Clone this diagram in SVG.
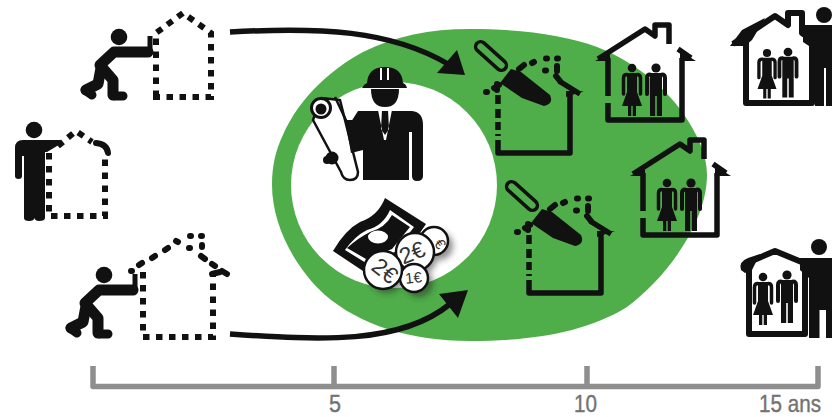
<svg xmlns="http://www.w3.org/2000/svg" width="832" height="417" viewBox="0 0 832 417">
<style>
.k{fill:#111}
.ln{fill:none;stroke:#111;stroke-linejoin:round}
.dash{fill:none;stroke:#111;stroke-width:6;stroke-dasharray:6.500 6.500}
.dots{fill:none;stroke:#111;stroke-width:6;stroke-linecap:round;stroke-linejoin:round}
.ax{fill:none;stroke:#8e8e8e;stroke-width:5.500;stroke-linejoin:round}
.lab{font-family:"Liberation Sans",Arial,sans-serif;font-size:24px;fill:#737373;stroke:#737373;stroke-width:.4}
.coin{fill:#fff;stroke:#111;stroke-width:2.500}
.ct{font-family:"Liberation Sans",Arial,sans-serif;fill:#333;text-anchor:middle}
</style>
<defs>
<filter id="sh" x="-40%" y="-40%" width="180%" height="180%"><feGaussianBlur stdDeviation="3"/></filter>
<g id="pusher">
<circle class="k" cx="119" cy="37" r="8.300"/>
<path class="ln" stroke-width="11" stroke-linecap="round" d="M148,52H114L100,65L113,80V95"/>
<path class="ln" stroke-width="11" stroke-linecap="round" d="M101,68L98,84L86,90"/>
<path class="ln" stroke-width="9" stroke-linecap="round" d="M115,96H123M85,90L92,95"/>
<path class="ln" stroke-width="5" d="M150,36V54"/>
</g>
<g id="man">
<circle class="k" cx="0" cy="0" r="4.600"/>
<path class="k" d="M-6,5H6V48H0.800V28H-0.800V48H-6Z"/>
<path class="ln" stroke-width="4" stroke-linecap="round" d="M-6,6.500Q-9,6.500-9,10V26M6,6.500Q9,6.500 9,10V26"/>
</g>
<g id="woman">
<circle class="k" cx="0" cy="0" r="4.300"/>
<path class="k" d="M-5,5H5L5,24L10,38H4V48H0.700V38H-0.700V48H-4V38H-10L-5,24Z"/>
<path class="ln" stroke-width="3.500" stroke-linecap="round" d="M-5,6.500Q-8.500,6.500-8.500,10V26M5,6.500Q8.500,6.500 8.500,10V26"/>
</g>
<g id="trowelhouse">
<path class="ln" stroke-width="5.500" d="M498,95V104M498,109V118M498,122V130M498,134V136"/>
<path class="ln" stroke-width="5.500" d="M498,140V153H570V93M559,81L580,94"/>
<path class="k" d="M566,91H584L566,97Z"/>
<path class="k" d="M500,83L511,69L521,72L550,95Q554,104 544,106L522,98Z"/>
<g transform="rotate(42 491 56)"><rect class="ln" stroke-width="3.500" x="472" y="51" width="38" height="10" rx="5"/></g>
<path class="dots" d="M519,69L524,65M532,63L534,62M546,58.500H547M557,58.500H558M545,70.500H546M557,66V71M556,76L560,81M497,84V90M486,92H487M494,88L499,85"/>
</g>
<g id="familyhouse">
<path class="ln" stroke-width="5.500" d="M608,58V96M608,103V120H682V58M598,59L645,29L655,36V25H669V44M678,49L691,58"/>
<path class="k" d="M595,61L610,53V61ZM696,61H680V51Z"/>
<use href="#woman" x="632" y="68"/>
<use href="#man" x="656" y="68"/>
</g>
</defs>

<g id="blob">
<path d="M272,185C272,165 276,150 282,137C300,95 335,67 363,52C395,36 430,29 470,29C520,29 565,35 597,47C640,64 668,92 683,113C698,135 707,155 707,175C707,220 670,275 627,307C585,333 530,341 470,341C410,341 360,325 325,295C295,268 272,225 272,185Z" fill="#4fae4a"/>
<circle cx="394" cy="185" r="103" fill="#fff"/>
</g>

<g id="connectors">
<path class="ln" stroke-width="5.500" d="M230,32C320,27 390,30 448,64"/>
<path class="k" d="M465,75L457,50L437,73Z"/>
<path class="ln" stroke-width="5.500" d="M230,334C320,340 400,345 450,304"/>
<path class="k" d="M468,290L439,294L458,318Z"/>
<g id="timeline">
<path class="ax" d="M93,366V386.500H818V366M334,366V386M587,366V386"/>
<text class="lab" x="329" y="411.500" textLength="12" lengthAdjust="spacingAndGlyphs">5</text>
<text class="lab" x="574" y="411.500" textLength="23" lengthAdjust="spacingAndGlyphs">10</text>
<text class="lab" x="759" y="411.500" textLength="62" lengthAdjust="spacingAndGlyphs">15 ans</text>
</g>
</g>

<g id="pusher-plain">
<use href="#pusher"/>
<path class="dash" d="M156,97V33L183,13L211,33V97Z"/>
</g>

<g id="standing-plain">
<circle class="k" cx="34" cy="130" r="8.300"/>
<path class="k" d="M15,176V148Q15,140 23,140H60L62,143L47,152H45V218Q45,221 39,221Q35,221 34.500,218Q34,221 29,221Q24,221 24,218V156H22V176Q22,179 18.500,179Q15,179 15,176Z"/>
<path class="dash" d="M49,153V216H105V153"/>
<path class="dash" d="M58,146L76,131L92,142" stroke-dasharray="6 5"/>
<path class="ln" stroke-width="6" stroke-linecap="round" d="M96,143Q107,144 108,153"/>
</g>

<g id="pusher-chimney">
<use href="#pusher" x="-15" y="238"/>
<path class="dash" d="M143,272V337H213V272"/>
<path class="dots" d="M131,271H132M139,265L142,263M152,258L155,256M165,250L168,248M176,241L178,242M190,236H191M189,248H190M201,236H202M202,245V247M201,256L205,259M212,264L215,266M222,271L227,274M212,274L220,272"/>
</g>

<g id="engineer">
<path class="k" d="M362,88Q364,84 367,83Q368,67 385,67Q402,67 403,83Q406,84 407,88Z"/>
<path d="M381,68V80M388,68V80" stroke="#fff" stroke-width="2" fill="none"/>
<path class="k" d="M371,89H399Q399,107 385,107Q371,107 371,89Z"/>
<path class="k" d="M358,111H412Q423,112 423,125V176Q423,181 417,181Q412,181 412,176V132H409V180H363V145L349,125Z"/>
<path d="M378,110H382L381,129L385,135L389,129L388,110H392L386,140H384Z" fill="#fff"/>
<path d="M321,98L340,100L358,172Q358,180 350,180Q343,180 341,172L313,120Z" fill="#fff" stroke="#111" stroke-width="2.500" stroke-linejoin="round"/>
<path class="ln" stroke-width="2.500" d="M335,97L360,150"/>
<circle cx="321" cy="108" r="9.500" fill="#fff" stroke="#111" stroke-width="3"/>
<circle class="k" cx="321" cy="109" r="5.500"/>
<circle class="k" cx="332" cy="158" r="6.500"/>
<circle class="k" cx="327" cy="160" r="4"/>
<path class="k" d="M345,120L363,120V150L351,153Z"/>
</g>

<g id="money">
<g fill="#222" opacity=".5" filter="url(#sh)">
<circle cx="439" cy="246" r="14"/><circle cx="419" cy="257" r="18"/><circle cx="419" cy="283" r="14"/><circle cx="387" cy="275" r="18"/>
</g>
<path d="M385,198L426,224L400,262L366,273L333,251Q345,230 360,222Q378,216 385,198Z" class="k"/>
<path d="M390,210L414,227L395,252L366,263L345,250Q355,236 367,230Q383,226 390,210Z" fill="#fff"/>
<path d="M392,215L410,227L392,249L366,259L347,248Q358,238 370,232Q385,228 392,215Z" class="k"/>
<ellipse cx="378" cy="237" rx="10" ry="6.500" fill="#fff"/>
<circle class="coin" cx="434" cy="241" r="14"/>
<text class="ct" font-size="15" transform="translate(436,247) rotate(55)">€</text>
<circle class="coin" cx="415" cy="252" r="19"/>
<text class="ct" font-size="23" transform="translate(415,260) rotate(-22)">2€</text>
<circle class="coin" cx="414" cy="278" r="14"/>
<text class="ct" font-size="15" transform="translate(414,283) rotate(-6)">1€</text>
<circle class="coin" cx="383" cy="270" r="19"/>
<text class="ct" font-size="23" transform="translate(380,277) rotate(38)">2€</text>
</g>

<g id="trowel-house-1"><use href="#trowelhouse"/></g>
<g id="trowel-house-2"><use href="#trowelhouse" x="31" y="140"/></g>
<g id="family-house-1"><use href="#familyhouse"/></g>
<g id="family-house-2"><use href="#familyhouse" x="35" y="115"/></g>

<g id="family-owner-top">
<circle class="k" cx="824" cy="15" r="8"/>
<path class="k" d="M803,25H832V106H826V68H824V106H815V50L803,42Z"/>
<path class="ln" stroke-width="6" d="M746,42V103H812V42M733,44L775,16L788,25V13H802V33L812,40"/>
<path class="k" d="M730,46L742,30L765,18L752,40L745,46Z"/>
<use href="#woman" transform="translate(767,53) scale(.95)"/>
<use href="#man" transform="translate(788,52) scale(.95)"/>
</g>

<g id="family-owner-bottom">
<circle class="k" cx="819" cy="247" r="8"/>
<path class="k" d="M800,258H832V338H826V310H819.500V338H809V278L800,270Z"/>
<path class="ln" stroke-width="6" d="M749,262V334H805V262M747,263L775,251L804,263"/>
<path class="k" d="M741,270Q738,262 748,258L760,254L752,270L745,273Z"/>
<use href="#woman" x="763" y="277"/>
<use href="#man" x="787" y="275"/>
</g>
</svg>
